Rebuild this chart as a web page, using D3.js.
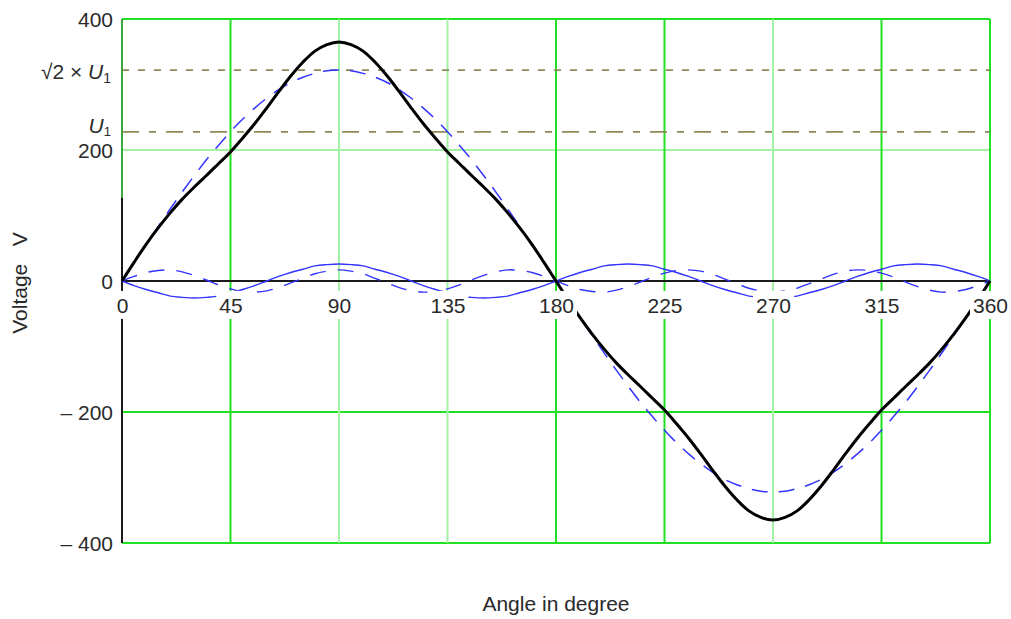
<!DOCTYPE html>
<html>
<head>
<meta charset="utf-8">
<script src="https://cdn.jsdelivr.net/npm/d3@7"></script>
<style>
  html, body { margin: 0; padding: 0; background: #fff; }
  svg text { font-family: "Liberation Sans", Arial, sans-serif; fill: #2a2a2a; }
</style>
</head>
<body>
<svg id="chart" width="1011" height="619"></svg>
<script>
// Sample angles (degrees) for every trace
const angleDeg = [
  0, 5, 10, 15, 20, 25, 30, 35, 40, 45, 50, 55, 60, 65, 70, 75, 80, 85, 90,
  95, 100, 105, 110, 115, 120, 125, 130, 135, 140, 145, 150, 155, 160, 165, 170, 175, 180,
  185, 190, 195, 200, 205, 210, 215, 220, 225, 230, 235, 240, 245, 250, 255, 260, 265, 270,
  275, 280, 285, 290, 295, 300, 305, 310, 315, 320, 325, 330, 335, 340, 345, 350, 355, 360
];

// Fundamental component (V), blue dashed
const fundamental = [
  0, 28, 56, 83, 110, 136, 161, 185, 207, 228, 247, 264, 279, 292, 303, 311, 317, 321, 322,
  321, 317, 311, 303, 292, 279, 264, 247, 228, 207, 185, 161, 136, 110, 83, 56, 28, 0,
  -28, -56, -83, -110, -136, -161, -185, -207, -228, -247, -264, -279, -292, -303, -311, -317, -321, -322,
  -321, -317, -311, -303, -292, -279, -264, -247, -228, -207, -185, -161, -136, -110, -83, -56, -28, 0
];

// Third harmonic (V), thin blue solid
const thirdHarmonic = [
  0, -7, -13, -18, -23, -25, -26, -25, -23, -18, -13, -7, 0, 7, 13, 18, 23, 25, 26,
  25, 23, 18, 13, 7, 0, -7, -13, -18, -23, -25, -26, -25, -23, -18, -13, -7, 0,
  7, 13, 18, 23, 25, 26, 25, 23, 18, 13, 7, 0, -7, -13, -18, -23, -25, -26,
  -25, -23, -18, -13, -7, 0, 7, 13, 18, 23, 25, 26, 25, 23, 18, 13, 7, 0
];

// Fifth harmonic (V), thin blue dashed
const fifthHarmonic = [
  0, 7, 13, 16, 17, 14, 8.5, 1.5, -6, -12, -16, -17, -15, -10, -3, 4, 11, 15, 17,
  15, 11, 4, -3, -10, -15, -17, -16, -12, -6, 1.5, 8.5, 14, 17, 16, 13, 7, 0,
  -7, -13, -16, -17, -14, -8.5, -1.5, 6, 12, 16, 17, 15, 10, 3, -4, -11, -15, -17,
  -15, -11, -4, 3, 10, 15, 17, 16, 12, 6, -1.5, -8.5, -14, -17, -16, -13, -7, 0
];

// Resulting voltage (V), thick black
const resultant = [
  0, 28.5, 56, 81, 104, 125, 143.5, 161, 179, 197, 218, 240, 264, 289, 313, 334, 351, 361, 365,
  361, 351, 334, 313, 289, 264, 240, 218, 197, 179, 161, 143.5, 125, 104, 81, 56, 28.5, 0,
  -28.5, -56, -81, -104, -125, -143.5, -161, -179, -197, -218, -240, -264, -289, -313, -334, -351, -361, -365,
  -361, -351, -334, -313, -289, -264, -240, -218, -197, -179, -161, -143.5, -125, -104, -81, -56, -28.5, 0
];

// Axis ticks and reference levels
const xTicks = [0, 45, 90, 135, 180, 225, 270, 315, 360];
const yTicks = [-400, -200, 0, 200, 400];
const u1Level = 227.7;      // RMS value U1
const u1PeakLevel = 322;    // sqrt(2) x U1
const yAxisTop = 127;       // upper end of the black y-axis stroke

const FONT = 21;
const svg = d3.select("#chart");
const x = d3.scaleLinear().domain([0, 360]).range([122, 990]);
const y = d3.scaleLinear().domain([-400, 400]).range([543, 19]);

const GREEN = "#22e022";
const GREEN_SOFT = "#a4f2a4";
const softX = new Set([90, 135, 270]);
const softY = new Set([200]);

// Grid
const grid = svg.append("g");
yTicks.filter(v => v !== 0).forEach(v => {
  grid.append("line")
    .attr("x1", x(0)).attr("x2", x(360))
    .attr("y1", y(v)).attr("y2", y(v))
    .attr("stroke", softY.has(v) ? GREEN_SOFT : GREEN)
    .attr("stroke-width", 2);
});
xTicks.filter(v => v !== 0).forEach(v => {
  grid.append("line")
    .attr("x1", x(v)).attr("x2", x(v))
    .attr("y1", y(400)).attr("y2", y(-400))
    .attr("stroke", softX.has(v) ? GREEN_SOFT : GREEN)
    .attr("stroke-width", 2);
});
// Left frame: green above the axis stroke, black y-axis below
grid.append("line")
  .attr("x1", x(0)).attr("x2", x(0))
  .attr("y1", y(400)).attr("y2", y(yAxisTop))
  .attr("stroke", "#3aa83a").attr("stroke-width", 2);
grid.append("line")
  .attr("x1", x(0)).attr("x2", x(0))
  .attr("y1", y(yAxisTop)).attr("y2", y(-400))
  .attr("stroke", "#1a1a1a").attr("stroke-width", 2);

// Reference levels
const OLIVE = "#8e8a58";
svg.append("line")
  .attr("x1", x(0)).attr("x2", x(360))
  .attr("y1", y(u1PeakLevel)).attr("y2", y(u1PeakLevel))
  .attr("stroke", OLIVE).attr("stroke-width", 1.8)
  .attr("stroke-dasharray", "7,9");
svg.append("line")
  .attr("x1", x(0)).attr("x2", x(360))
  .attr("y1", y(u1Level)).attr("y2", y(u1Level))
  .attr("stroke", OLIVE).attr("stroke-width", 1.8)
  .attr("stroke-dasharray", "17,10,7,10");

// Horizontal axis
svg.append("line")
  .attr("x1", x(0)).attr("x2", x(360))
  .attr("y1", y(0)).attr("y2", y(0))
  .attr("stroke", "#1a1a1a").attr("stroke-width", 2);

// Traces
const line = d3.line()
  .x((d, i) => x(angleDeg[i]))
  .y(d => y(d))
  .curve(d3.curveCatmullRom.alpha(0.5));

const traces = [
  { values: thirdHarmonic, stroke: "#3434ff", width: 1.4, dash: null },
  { values: fifthHarmonic, stroke: "#3434ff", width: 1.4, dash: "16,12" },
  { values: fundamental, stroke: "#3434ff", width: 1.5, dash: "16,11" },
  { values: resultant, stroke: "#000", width: 3, dash: null }
];
traces.forEach(t => {
  svg.append("path")
    .datum(t.values)
    .attr("d", line)
    .attr("fill", "none")
    .attr("stroke", t.stroke)
    .attr("stroke-width", t.width)
    .attr("stroke-linejoin", "round")
    .attr("stroke-dasharray", t.dash);
});

// X tick labels on white boxes
const xAxis = svg.append("g")
  .attr("transform", `translate(0,${y(0)})`)
  .call(d3.axisBottom(x).tickValues(xTicks).tickSize(0).tickPadding(17).tickFormat(d3.format("d")));
xAxis.select(".domain").remove();
xAxis.selectAll("text")
  .attr("font-size", FONT)
  .attr("font-family", "Liberation Sans, Arial, sans-serif")
  .attr("fill", "#2a2a2a");
xAxis.selectAll(".tick").each(function () {
  const g = d3.select(this);
  const b = g.select("text").node().getBBox();
  g.insert("rect", "text")
    .attr("x", b.x - 3).attr("y", b.y - 3)
    .attr("width", b.width + 6).attr("height", b.height + 5)
    .attr("fill", "#fff");
});

// Y tick labels
const yAxis = svg.append("g")
  .attr("transform", `translate(${x(0)},0)`)
  .call(d3.axisLeft(y).tickValues(yTicks).tickSize(0).tickPadding(9)
    .tickFormat(d => d < 0 ? "\u2013 " + Math.abs(d) : String(d)));
yAxis.select(".domain").remove();
yAxis.selectAll("text")
  .attr("font-size", FONT)
  .attr("dy", "0.37em")
  .attr("font-family", "Liberation Sans, Arial, sans-serif")
  .attr("fill", "#2a2a2a");

// Labels for the reference levels
const peakLabel = svg.append("text")
  .attr("x", x(0) - 11).attr("y", y(u1PeakLevel) + 9)
  .attr("text-anchor", "end").attr("font-size", FONT);
peakLabel.append("tspan").text("\u221A2 \u00D7 ");
peakLabel.append("tspan").attr("font-style", "italic").text("U");
peakLabel.append("tspan").attr("font-size", 14).attr("dy", 4).text("1");

const u1Label = svg.append("text")
  .attr("x", x(0) - 11).attr("y", y(u1Level) + 1)
  .attr("text-anchor", "end").attr("font-size", FONT);
u1Label.append("tspan").attr("font-style", "italic").text("U");
u1Label.append("tspan").attr("font-size", 13).attr("dy", 3).text("1");

// Axis titles
svg.append("text")
  .attr("x", (x(0) + x(360)) / 2).attr("y", 611)
  .attr("text-anchor", "middle").attr("font-size", FONT)
  .text("Angle in degree");
svg.append("text")
  .attr("transform", `translate(27,${283}) rotate(-90)`)
  .attr("text-anchor", "middle").attr("font-size", FONT)
  .text("Voltage\u00A0\u00A0\u00A0V");
</script>
</body>
</html>
